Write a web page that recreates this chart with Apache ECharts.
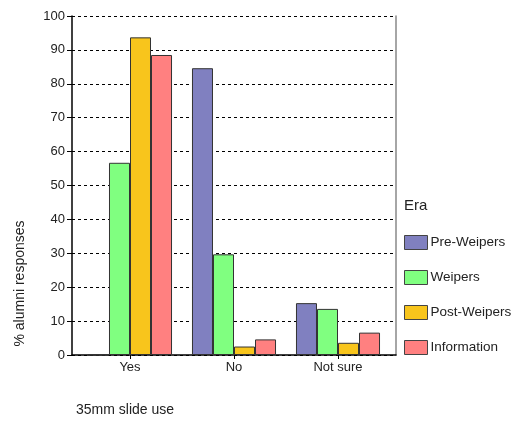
<!DOCTYPE html>
<html><head><meta charset="utf-8">
<script src="https://cdn.jsdelivr.net/npm/echarts@6/dist/echarts.min.js"></script>
<style>html,body{margin:0;padding:0;background:#fff}#c{width:523px;height:422px}</style>
</head><body><div id="c"></div>
<script>
const categories = ['Yes', 'No', 'Not sure'];
const seriesNames = ['Pre-Weipers', 'Weipers', 'Post-Weipers', 'Information'];
const preWeipers = [0, 84.6, 15.3];
const weipers = [56.7, 29.7, 13.6];
const postWeipers = [93.7, 2.5, 3.6];
const information = [88.5, 4.6, 6.6];
const colors = ['#8080c0', '#80ff80', '#f8c51c', '#ff8080'];
const yTicks = [0, 10, 20, 30, 40, 50, 60, 70, 80, 90, 100];

const FONT = '"Liberation Sans", Arial, sans-serif';
const values = [preWeipers, weipers, postWeipers, information];
const chart = echarts.init(document.getElementById('c'), null, {renderer: 'canvas'});
chart.setOption({
  animation: false,
  backgroundColor: '#fff',
  textStyle: {fontFamily: FONT},
  title: [
    {text: '35mm slide use', left: 71, top: 398, textStyle: {fontSize: 14, fontWeight: 'normal', color: '#222', fontFamily: FONT}},
    {text: 'Era', left: 399, top: 193, textStyle: {fontSize: 15, fontWeight: 'normal', color: '#222', fontFamily: FONT}}
  ],
  legend: {
    orient: 'vertical', left: 404, top: 235, padding: 0,
    itemWidth: 23, itemHeight: 14, itemGap: 20,
    icon: 'rect',
    itemStyle: {borderWidth: 1, borderColor: '#444'},
    textStyle: {fontSize: 13.5, color: '#222', fontFamily: FONT, padding: [0, 0, 0, -2]},
    data: seriesNames
  },
  grid: [
    {left: 72, right: 127, top: 16, bottom: 67},
    {left: 78, right: 133, top: 16, bottom: 67}
  ],
  xAxis: [
    {gridIndex: 0, type: 'value', min: 0, max: 1, axisLine: {show: true, onZero: false, lineStyle: {color: '#000', width: 1.5}},
      axisTick: {show: false}, axisLabel: {show: false}, splitLine: {show: false}},
    {gridIndex: 1, type: 'category', data: categories,
      axisLine: {show: false}, axisTick: {show: true, alignWithLabel: true, length: 4, lineStyle: {color: '#000'}},
      axisLabel: {fontSize: 13, color: '#222', margin: 6, fontFamily: FONT}}
  ],
  yAxis: [
    {gridIndex: 0, type: 'value', min: 0, max: 100, interval: 10,
      name: '% alumni responses', nameLocation: 'middle', nameGap: 45, nameRotate: 90,
      nameTextStyle: {fontSize: 14, color: '#222', fontFamily: FONT, padding: [0, 0, 0, -196]},
      axisLine: {show: true, lineStyle: {color: '#000', width: 1.5}},
      axisTick: {show: true, length: 5, lineStyle: {color: '#000'}},
      axisLabel: {fontSize: 13, color: '#222', margin: 7, fontFamily: FONT,
        formatter: v => yTicks.includes(v) ? String(v) : ''},
      splitLine: {show: true, lineStyle: {color: '#000', type: [3, 3], width: 1}}},
    {gridIndex: 0, type: 'value', min: 0, max: 100, position: 'right',
      axisLine: {show: true, lineStyle: {color: '#888', width: 1.5}},
      axisTick: {show: false}, axisLabel: {show: false}, splitLine: {show: false}},
    {gridIndex: 1, type: 'value', min: 0, max: 100, show: false, splitLine: {show: false}}
  ],
  series: seriesNames.map((n, i) => ({
    name: n, type: 'bar', xAxisIndex: 1, yAxisIndex: 2,
    data: values[i],
    barGap: '0%', barCategoryGap: '19.2%',
    itemStyle: {color: colors[i], borderColor: '#333', borderWidth: 1}
  }))
});
</script></body></html>
